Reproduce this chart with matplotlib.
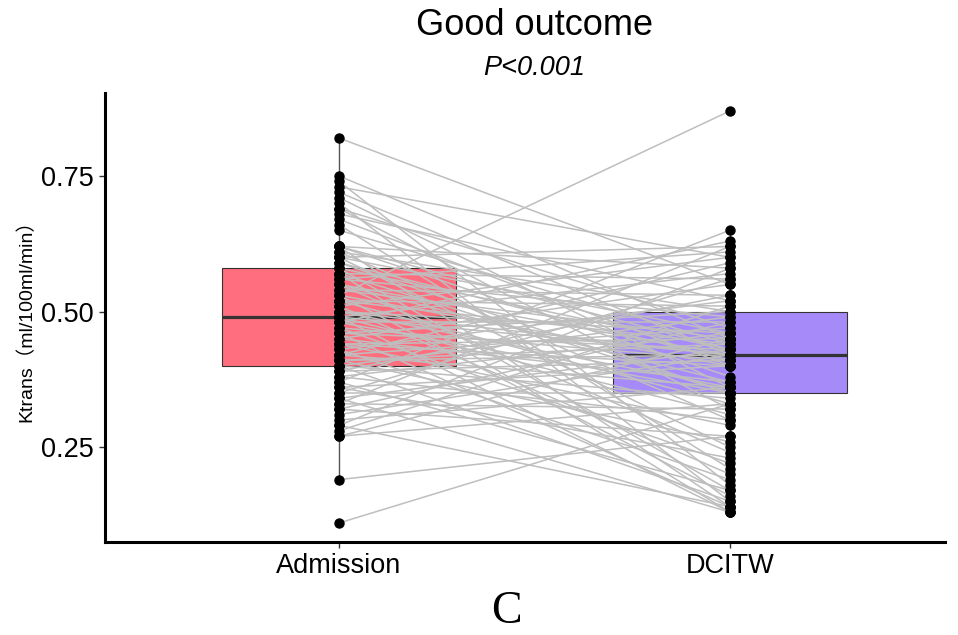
import matplotlib
matplotlib.use("Agg")
import matplotlib.pyplot as plt

# Ktrans per patient, admission vs DCITW (pairs in the same order)
groups = ["Admission", "DCITW"]
admission = [
    0.82, 0.75, 0.74, 0.73, 0.72, 0.71, 0.70, 0.69, 0.69, 0.68, 0.67, 0.66, 0.65,
    0.62, 0.62, 0.62, 0.62, 0.61, 0.61, 0.60, 0.60, 0.60, 0.59, 0.59, 0.58,
    0.58, 0.57, 0.57, 0.57, 0.56, 0.56, 0.55, 0.55, 0.55, 0.54, 0.54, 0.53, 0.53,
    0.53, 0.52, 0.52, 0.52, 0.51, 0.51, 0.50, 0.50, 0.50, 0.49, 0.49, 0.49,
    0.49, 0.48, 0.48, 0.48, 0.47, 0.47, 0.46, 0.46, 0.46, 0.45, 0.45, 0.44, 0.44,
    0.44, 0.43, 0.43, 0.42, 0.42, 0.42, 0.41, 0.41, 0.41, 0.40, 0.40, 0.40,
    0.39, 0.39, 0.38, 0.38, 0.37, 0.37, 0.36, 0.36, 0.35, 0.35, 0.34, 0.34, 0.33,
    0.33, 0.32, 0.32, 0.31, 0.30, 0.29, 0.29, 0.28, 0.27, 0.27, 0.19, 0.11,
]
dcitw = [
    0.55, 0.45, 0.18, 0.60, 0.42, 0.36, 0.15, 0.47, 0.32, 0.52, 0.40, 0.21, 0.44,
    0.38, 0.58, 0.14, 0.43, 0.50, 0.30, 0.46, 0.62, 0.25, 0.41, 0.35, 0.17,
    0.43, 0.56, 0.13, 0.35, 0.49, 0.61, 0.42, 0.24, 0.37, 0.45, 0.53, 0.87, 0.40,
    0.16, 0.51, 0.33, 0.44, 0.60, 0.20, 0.46, 0.36, 0.42, 0.57, 0.31, 0.13,
    0.42, 0.63, 0.35, 0.48, 0.22, 0.41, 0.50, 0.43, 0.14, 0.55, 0.37, 0.45, 0.29,
    0.40, 0.52, 0.19, 0.47, 0.36, 0.59, 0.42, 0.26, 0.44, 0.34, 0.49, 0.15,
    0.53, 0.41, 0.30, 0.46, 0.17, 0.65, 0.40, 0.23, 0.56, 0.35, 0.43, 0.13, 0.62,
    0.32, 0.48, 0.27, 0.42, 0.36, 0.58, 0.14, 0.51, 0.45, 0.33, 0.27, 0.33,
]

# box statistics
box_q1 = [0.40, 0.35]
box_med = [0.49, 0.42]
box_q3 = [0.58, 0.50]
whisker_lo = [0.19, 0.13]
whisker_hi = [0.82, 0.65]
box_colors = ["#FF6E7E", "#A78AFA"]

fig = plt.figure(figsize=(9.58, 6.35), dpi=100)
ax = fig.add_axes([0.1096, 0.1465, 0.8768, 0.707])

stats = []
for i in range(len(groups)):
    stats.append(dict(q1=box_q1[i], med=box_med[i], q3=box_q3[i],
                      whislo=whisker_lo[i], whishi=whisker_hi[i], fliers=[]))
bp = ax.bxp(stats, positions=[1, 2], widths=0.6, patch_artist=True,
            showfliers=False, showcaps=False,
            boxprops=dict(edgecolor="#333333", linewidth=0.8),
            medianprops=dict(color="#333333", linewidth=2.3),
            whiskerprops=dict(color="#555555", linewidth=1.0), zorder=1)
for patch, col in zip(bp["boxes"], box_colors):
    patch.set_facecolor(col)

# paired lines
for a, d in zip(admission, dcitw):
    ax.plot([1, 2], [a, d], color="#BEBEBE", linewidth=1.1, zorder=2)

ax.plot([1] * len(admission), admission, "o", color="black", markersize=6.5, zorder=3)
ax.plot([2] * len(dcitw), dcitw, "o", color="black", markersize=6.5, zorder=3)

ax.set_xlim(0.4015, 2.55)
ax.set_ylim(0.075, 0.903)
ax.set_xticks([1, 2])
ax.set_xticklabels(groups, fontsize=19.5, family="Liberation Sans")
ax.set_yticks([0.25, 0.50, 0.75])
ax.set_yticklabels(["0.25", "0.50", "0.75"], fontsize=19.5, family="Liberation Sans")
ax.tick_params(axis="both", length=4, width=1, color="#333333", pad=4)

for s in ["top", "right"]:
    ax.spines[s].set_visible(False)
for s in ["left", "bottom"]:
    ax.spines[s].set_linewidth(2.2)
    ax.spines[s].set_color("black")

fig.text(0.027, 0.503, "Ktrans（ml/100ml/min）", rotation=90, ha="center", va="center",
         fontsize=14, family=["Liberation Sans", "Noto Sans CJK SC"])
fig.text(0.558, 0.96, "Good outcome", ha="center", va="center", fontsize=26,
         family="Liberation Sans")
fig.text(0.558, 0.893, "P<0.001", ha="center", va="center", fontsize=19.5,
         style="italic", family="Liberation Sans")
fig.text(0.529, 0.036, "C", ha="center", va="center", fontsize=33,
         family="Liberation Serif")

fig.savefig("out.png", dpi=100)
